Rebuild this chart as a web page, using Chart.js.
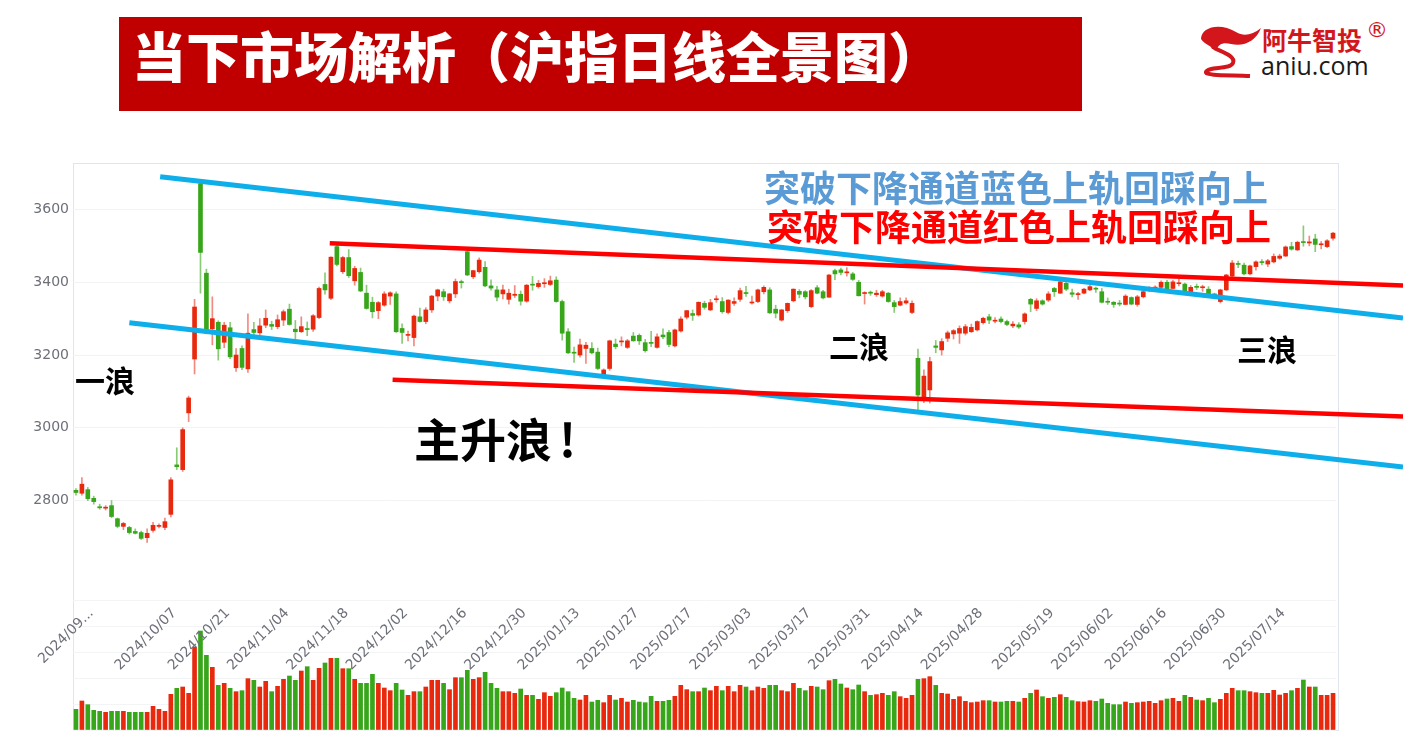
<!DOCTYPE html>
<html><head><meta charset="utf-8">
<script src="https://cdn.jsdelivr.net/npm/chart.js@4.4.1/dist/chart.umd.min.js"></script>
<style>
html,body{margin:0;padding:0;background:#fff;}
#wrap{position:relative;width:1403px;height:754px;overflow:hidden;font-family:"Noto Sans CJK SC","Noto Sans",sans-serif;}
canvas{position:absolute;left:0;top:0;}
.t{position:absolute;white-space:nowrap;line-height:1;font-weight:700;}
</style></head><body>
<div id="wrap">
  <div style="position:absolute;left:119px;top:17px;width:963px;height:94px;background:#c00000;"></div>
  <div class="t" style="left:132px;top:28px;font-size:54px;color:#fff;font-weight:900;">当下市场解析（沪指日线全景图）</div>
  <svg style="position:absolute;left:0;top:0;" width="1403" height="100">
    <path d="M1201 39 C1201 27 1220 22 1236 32 C1244 37 1252 35 1261 28 C1256 41 1244 47 1231 44 C1223 42 1219 44 1217 49 L1212 49 C1211 45 1205 45 1201 39 Z" fill="#d3161c"/>
    <path d="M1214 48 C1222 52 1236 56 1233 63 C1230 70 1208 66 1206 72 C1205 76 1230 75 1250 76" fill="none" stroke="#d3161c" stroke-width="4"/>
  </svg>
  <div class="t" style="left:1262px;top:27px;font-size:25px;color:#d3161c;">阿牛智投</div>
  <div class="t" style="left:1366px;top:19px;font-size:22px;color:#d3161c;font-weight:400;font-family:'DejaVu Sans',sans-serif;">®</div>
  <div class="t" style="left:1261px;top:53px;font-size:25px;color:#1a1a1a;font-weight:400;font-family:'Open Sans','Noto Sans',sans-serif;">aniu.com</div>
  <div style="position:absolute;left:73px;top:163px;width:1264px;height:566px;border:1px solid #dfe4ee;"></div>
  <canvas id="vol" width="1403" height="754"></canvas>
  <canvas id="price" width="1403" height="754"></canvas>
  <div class="t" style="left:764px;top:168px;font-size:36px;color:#5b9bd5;">突破下降通道蓝色上轨回踩向上</div>
  <div class="t" style="left:767px;top:207px;font-size:36px;color:#ff0000;">突破下降通道红色上轨回踩向上</div>
  <div class="t" style="left:75px;top:364px;font-size:30px;color:#000;">一浪</div>
  <div class="t" style="left:414px;top:414px;font-size:46px;color:#000;">主升浪<span style="margin-left:7px;">!</span></div>
  <div class="t" style="left:829px;top:330px;font-size:30px;color:#000;">二浪</div>
  <div class="t" style="left:1237px;top:333px;font-size:30px;color:#000;">三浪</div>
</div>
<script>
// ---- data (沪指日线, 2024/08/29 – 2025/07/18) ----
const opens = [2828,2820,2830,2806,2783,2779,2786,2750,2729,2726,2715,2712,2698,2718,2729,2726,2762,2898,2885,3041,3189,3671,3425,3272,3290,3235,3275,3165,3218,3162,3270,3261,3282,3284,3278,3296,3326,3271,3264,3271,3271,3303,3394,3356,3498,3429,3468,3404,3427,3370,3345,3322,3337,3362,3368,3273,3254,3248,3305,3292,3324,3362,3374,3349,3368,3400,3484,3415,3429,3441,3390,3379,3368,3353,3364,3367,3348,3393,3388,3396,3394,3406,3347,3264,3206,3200,3218,3218,3208,3145,3163,3230,3236,3221,3252,3254,3234,3234,3221,3255,3262,3225,3266,3304,3314,3310,3342,3324,3352,3347,3317,3342,3353,3371,3343,3347,3374,3379,3326,3296,3322,3349,3375,3374,3333,3385,3374,3359,3432,3434,3426,3423,3400,3369,3371,3366,3362,3370,3344,3337,3343,3317,3191,3085,3104,3225,3214,3246,3258,3260,3260,3264,3269,3289,3305,3293,3299,3292,3280,3283,3292,3353,3328,3349,3351,3383,3370,3397,3371,3366,3370,3379,3382,3374,3346,3345,3341,3339,3358,3339,3360,3377,3384,3386,3400,3383,3396,3395,3374,3387,3385,3381,3368,3347,3379,3417,3450,3447,3423,3443,3455,3450,3456,3466,3472,3498,3489,3511,3508,3519,3503,3498,3521];
const closes = [2822,2845,2805,2797,2780,2781,2756,2729,2737,2712,2710,2696,2710,2732,2731,2742,2857,2893,2995,3082,3332,3482,3260,3300,3217,3282,3195,3200,3166,3260,3262,3280,3301,3279,3297,3319,3284,3264,3278,3270,3308,3383,3379,3469,3449,3468,3418,3438,3376,3328,3319,3344,3368,3371,3264,3262,3256,3307,3292,3324,3362,3379,3360,3368,3402,3399,3420,3432,3461,3390,3384,3359,3379,3370,3367,3348,3392,3392,3397,3398,3404,3347,3260,3206,3205,3228,3227,3206,3163,3159,3239,3223,3237,3239,3239,3239,3212,3232,3250,3250,3229,3269,3299,3322,3309,3345,3331,3344,3354,3319,3351,3347,3377,3369,3345,3379,3386,3316,3315,3324,3342,3381,3367,3360,3377,3370,3357,3420,3423,3427,3427,3408,3363,3371,3370,3370,3374,3347,3333,3347,3349,3342,3090,3142,3182,3221,3237,3261,3267,3273,3278,3276,3292,3301,3296,3295,3292,3284,3285,3277,3313,3340,3349,3340,3368,3374,3401,3381,3367,3368,3381,3388,3381,3345,3345,3339,3340,3362,3340,3360,3374,3386,3386,3400,3381,3401,3397,3374,3386,3386,3386,3367,3360,3379,3420,3453,3449,3423,3445,3456,3454,3459,3471,3472,3497,3491,3510,3509,3511,3504,3504,3514,3535];
const lows = [2815,2815,2800,2790,2776,2774,2753,2725,2720,2708,2708,2693,2685,2713,2725,2720,2755,2885,2880,3017,3148,3370,3258,3228,3186,3220,3190,3155,3160,3152,3245,3250,3275,3270,3272,3281,3282,3245,3262,3253,3265,3300,3367,3352,3445,3424,3413,3392,3374,3326,3302,3300,3334,3339,3262,3232,3239,3225,3290,3286,3317,3349,3350,3343,3358,3384,3418,3410,3425,3388,3378,3349,3354,3340,3358,3337,3345,3378,3384,3386,3391,3345,3241,3204,3180,3194,3177,3203,3160,3140,3158,3217,3225,3218,3238,3229,3208,3223,3219,3245,3223,3222,3263,3299,3295,3307,3326,3322,3345,3315,3313,3336,3347,3361,3340,3344,3368,3314,3302,3293,3317,3346,3357,3354,3330,3368,3354,3358,3407,3420,3417,3405,3362,3340,3364,3361,3359,3345,3317,3335,3340,3314,3047,3069,3068,3206,3200,3237,3244,3232,3255,3262,3266,3285,3286,3288,3288,3281,3275,3273,3285,3319,3322,3337,3347,3361,3369,3377,3360,3353,3368,3377,3372,3343,3339,3331,3335,3338,3338,3334,3357,3374,3374,3385,3378,3382,3390,3367,3370,3380,3375,3358,3355,3343,3377,3414,3440,3420,3420,3433,3448,3443,3453,3463,3471,3488,3487,3499,3500,3484,3492,3495,3516];
const highs = [2833,2863,2836,2812,2790,2786,2800,2752,2740,2729,2722,2716,2722,2740,2736,2752,2863,2945,3000,3087,3353,3674,3436,3360,3294,3290,3290,3218,3225,3313,3290,3300,3324,3293,3310,3324,3340,3295,3305,3291,3311,3387,3426,3470,3509,3471,3490,3444,3439,3392,3359,3347,3374,3374,3374,3286,3266,3310,3329,3330,3364,3381,3381,3370,3409,3406,3486,3433,3467,3457,3407,3389,3392,3381,3391,3376,3394,3416,3405,3410,3417,3415,3351,3273,3222,3244,3235,3234,3219,3162,3241,3244,3250,3243,3262,3258,3243,3265,3258,3272,3268,3271,3305,3323,3324,3346,3348,3353,3363,3358,3352,3357,3384,3389,3362,3381,3390,3385,3337,3325,3343,3382,3380,3377,3380,3391,3378,3421,3436,3439,3440,3427,3405,3374,3376,3378,3378,3372,3350,3357,3357,3349,3216,3159,3194,3240,3245,3266,3270,3280,3284,3285,3294,3304,3312,3303,3305,3296,3292,3289,3316,3356,3355,3352,3374,3386,3404,3400,3381,3372,3383,3392,3387,3383,3357,3347,3350,3366,3360,3364,3377,3388,3390,3404,3405,3405,3408,3398,3391,3395,3392,3388,3370,3381,3422,3460,3458,3453,3447,3459,3462,3463,3478,3477,3500,3510,3513,3555,3527,3532,3512,3517,3537];
const volumes = [248,348,304,236,224,212,224,224,224,212,212,212,212,284,248,224,428,500,516,440,992,1188,896,752,536,560,500,460,472,616,596,516,584,460,524,608,648,596,708,760,596,740,804,860,860,736,736,608,560,560,668,560,504,472,560,480,416,460,460,516,596,596,560,484,628,628,716,608,628,692,560,500,460,460,440,492,416,416,368,448,404,448,504,460,380,360,416,336,356,328,416,360,380,336,356,336,328,404,344,344,356,404,536,484,460,460,504,472,524,472,524,460,536,516,472,516,500,536,536,472,460,560,500,472,524,516,484,592,608,552,504,484,540,460,416,424,440,416,460,400,380,416,608,616,640,536,440,432,368,400,344,328,336,352,352,336,336,344,344,336,380,440,480,400,380,392,424,392,352,340,336,352,344,372,320,304,304,336,320,328,336,344,320,352,372,380,344,416,392,360,352,380,328,368,440,500,472,472,460,448,440,440,476,420,440,472,500,600,516,516,416,416,440];
const priceTicks = [2800, 3000, 3200, 3400, 3600];
const tickIdx = [7, 21, 30, 40, 50, 60, 70, 80, 89, 99, 108, 118, 128, 138, 147, 157, 169, 179, 188, 198, 208];
const tickLabels = ['2024/09...', '2024/10/07', '2024/10/21', '2024/11/04', '2024/11/18', '2024/12/02', '2024/12/16', '2024/12/30', '2025/01/13', '2025/01/27', '2025/02/17', '2025/03/03', '2025/03/17', '2025/03/31', '2025/04/14', '2025/04/28', '2025/05/19', '2025/06/02', '2025/06/16', '2025/06/30', '2025/07/14'];
// trend lines in data space: [index, price]
const blueUpper = [[14.2, 3690], [223.8, 3302]];
const blueLower = [[9.0, 3289], [223.8, 2892]];
const redUpper = [[42.8, 3507], [223.8, 3391]];
const redLower = [[53.4, 3132], [223.8, 3031]];

// ---- styling ----
const N = closes.length;
const UP = '#e8290e', DOWN = '#38a61a';
const UPW = 'rgba(232,60,40,0.6)', DOWNW = 'rgba(56,166,26,0.6)';
const isUp = i => closes[i] >= opens[i];
const LEFT = 73, RIGHT = 1336, PTOP = 163, PBOT = 595, VTOP = 600, VBOT = 730, W = 1403, H = 754;
const LABEL_SHIFT = 4.4;

const trendPlugin = {
  id: 'trend',
  afterDatasetsDraw(chart) {
    const {ctx} = chart, x = chart.scales.x, y = chart.scales.y;
    ctx.save();
    [[blueUpper, '#0eaeea', 5], [blueLower, '#0eaeea', 5], [redUpper, '#ff0000', 4.5], [redLower, '#ff0000', 4.5]].forEach(([pts, c, w]) => {
      ctx.strokeStyle = c; ctx.lineWidth = w;
      ctx.beginPath();
      ctx.moveTo(x.getPixelForValue(pts[0][0]), y.getPixelForValue(pts[0][1]));
      ctx.lineTo(x.getPixelForValue(pts[1][0]), y.getPixelForValue(pts[1][1]));
      ctx.stroke();
    });
    ctx.restore();
  }
};

const pxPerUnit = 0.3638, v0 = 3600, y0 = 209.5;
const yMax = v0 + (y0 - PTOP) / pxPerUnit, yMin = v0 - (PBOT - y0) / pxPerUnit;

new Chart(document.getElementById('vol'), {
  type: 'bar',
  data: { datasets: [{
    label: '成交量',
    data: volumes.map((v, i) => ({x: i, y: v})),
    backgroundColor: c => isUp(c.dataIndex) ? UP : DOWN,
    barThickness: 4
  }]},
  options: {
    responsive: false, animation: false, devicePixelRatio: 1,
    layout: {padding: {left: LEFT, right: W - RIGHT, top: VTOP, bottom: H - VBOT}},
    plugins: {legend: {display: false}, tooltip: {enabled: false}},
    scales: {
      x: {type: 'linear', min: -0.5, max: N - 0.5, offset: false, display: false},
      y: {min: 0, max: 1560, ticks: {display: false, stepSize: 312}, grid: {color: '#f3f4f6', drawTicks: false}, border: {display: false},
          afterFit: s => { s.width = 0; }}
    }
  }
});

new Chart(document.getElementById('price'), {
  type: 'bar',
  data: { datasets: [
    { label: 'K线', data: opens.map((o, i) => ({x: i, y: [o, closes[i]]})),
      backgroundColor: c => isUp(c.dataIndex) ? UP : DOWN, barThickness: 4, grouped: false, minBarLength: 1, order: 1 },
    { label: '影线', data: lows.map((l, i) => ({x: i, y: [l, highs[i]]})),
      backgroundColor: c => isUp(c.dataIndex) ? UPW : DOWNW, barThickness: 1, grouped: false, order: 2 }
  ]},
  options: {
    responsive: false, animation: false, devicePixelRatio: 1,
    layout: {padding: {left: 0, right: W - RIGHT, top: PTOP, bottom: 0}},
    plugins: {legend: {display: false}, tooltip: {enabled: false}},
    scales: {
      x: {type: 'linear', min: -0.5, max: N - 0.5, offset: false,
          grid: {display: false, drawTicks: false}, border: {display: false},
          afterBuildTicks: s => { s.ticks = tickIdx.map(v => ({value: v - LABEL_SHIFT})); },
          afterFit: s => { s.height = H - PBOT; },
          ticks: {autoSkip: false, minRotation: 45, maxRotation: 45, padding: 10, color: '#6e7079',
                  font: {size: 14, family: 'DejaVu Sans'}, callback: (v, i) => tickLabels[i]}},
      y: {min: yMin, max: yMax,
          afterBuildTicks: s => { s.ticks = priceTicks.map(v => ({value: v})); },
          afterFit: s => { s.width = LEFT; },
          grid: {color: '#f2f3f5', drawTicks: false}, border: {display: false},
          ticks: {color: '#6e7079', padding: 4, font: {size: 14, family: 'DejaVu Sans'}, callback: v => String(v)}}
    }
  },
  plugins: [trendPlugin]
});
</script>
</body></html>
